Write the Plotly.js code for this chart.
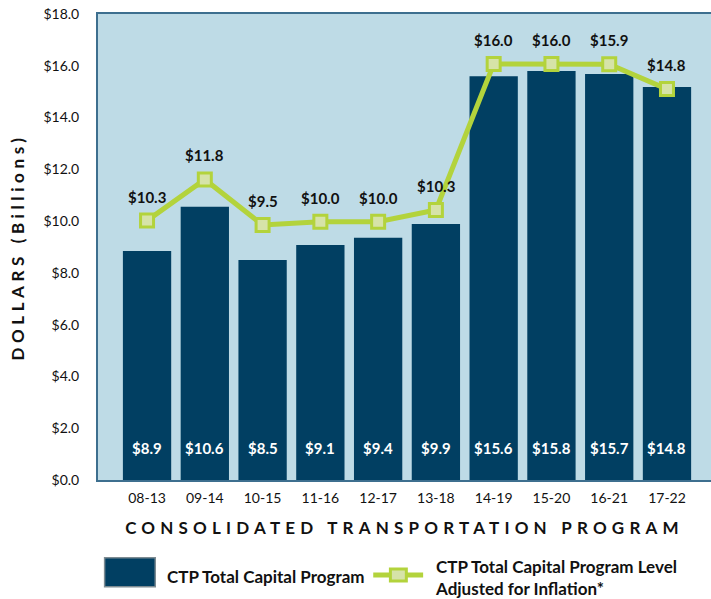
<!DOCTYPE html>
<html>
<head>
<meta charset="utf-8">
<script src="https://cdn.plot.ly/plotly-3.0.1.min.js"></script>
<style>
  html, body { margin: 0; padding: 0; background: #fff; }
  #chart { width: 711px; height: 599px; }
  .xtitle { letter-spacing: 5.2px; }
  .ytitle { letter-spacing: 4.6px; }
</style>
</head>
<body>
<div id="chart"></div>
<script>
// ---- Data ----
const categories = ['08-13', '09-14', '10-15', '11-16', '12-17', '13-18', '14-19', '15-20', '16-21', '17-22'];
// Bar heights as drawn
const capitalProgram = [8.85, 10.55, 8.50, 9.08, 9.36, 9.89, 15.60, 15.80, 15.68, 15.18];
// Values printed inside the bars
const capitalProgramLabels = [8.9, 10.6, 8.5, 9.1, 9.4, 9.9, 15.6, 15.8, 15.7, 14.8];
// Inflation-adjusted line as drawn
const inflationAdjusted = [10.02, 11.61, 9.85, 9.98, 9.98, 10.43, 16.07, 16.07, 16.06, 15.10];
// Values printed above the line markers
const inflationAdjustedLabels = [10.3, 11.8, 9.5, 10.0, 10.0, 10.3, 16.0, 16.0, 15.9, 14.8];
const yTickValues = [0, 2, 4, 6, 8, 10, 12, 14, 16, 18];

const BAR = '#013f62';
const GREEN = '#b3d33c';
const GREEN_FILL = '#d6e3a8';
const BG = '#bedbe6';
const FONT = 'Lato, "Open Sans", "Liberation Sans", sans-serif';
const fmt = v => '$' + v.toFixed(1);

const traces = [
  {
    type: 'bar', x: categories, y: capitalProgram,
    marker: { color: BAR }, width: 0.836,
    hoverinfo: 'skip', showlegend: false
  },
  {
    type: 'scatter', mode: 'lines+markers', x: categories, y: inflationAdjusted,
    line: { color: GREEN, width: 5 },
    marker: { symbol: 'square', size: 13, color: GREEN_FILL, line: { color: GREEN, width: 3 } },
    hoverinfo: 'skip', showlegend: false
  }
];

const annotations = [];
categories.forEach((c, i) => {
  annotations.push({
    x: c, y: 0, xref: 'x', yref: 'y', yshift: 32, showarrow: false,
    text: '<b>' + fmt(capitalProgramLabels[i]) + '</b>',
    font: { family: FONT, size: 15, color: '#ffffff' }
  });
  annotations.push({
    x: c, y: inflationAdjusted[i], xref: 'x', yref: 'y', yshift: 24, showarrow: false,
    text: '<b>' + fmt(inflationAdjustedLabels[i]) + '</b>',
    font: { family: FONT, size: 15, color: '#111111' }
  });
});

// Legend (custom, to match the large swatches)
annotations.push({
  xref: 'paper', yref: 'paper', x: 0.1097, y: -0.2075, xanchor: 'left', yanchor: 'middle',
  showarrow: false, align: 'left',
  text: '<b>CTP Total Capital Program</b>',
  font: { family: FONT, size: 17, color: '#111111' }
});
annotations.push({
  xref: 'paper', yref: 'paper', x: 0.5467, y: -0.209, xanchor: 'left', yanchor: 'middle',
  showarrow: false, align: 'left',
  text: '<b>CTP Total Capital Program Level<br>Adjusted for Inflation*</b>',
  font: { family: FONT, size: 17, color: '#111111' }
});

const shapes = [
  { type: 'rect', xref: 'paper', yref: 'paper', x0: 0.0108, x1: 0.0934, y0: -0.229, y1: -0.1667,
    fillcolor: BAR, line: { color: '#7d8b92', width: 1.5 } },
  { type: 'line', xref: 'paper', yref: 'paper', x0: 0.449, x1: 0.5304, y0: -0.2039, y1: -0.2039,
    line: { color: GREEN, width: 5 } },
  { type: 'rect', xref: 'paper', yref: 'paper', x0: 0.477, x1: 0.503, y0: -0.2168, y1: -0.191,
    fillcolor: GREEN_FILL, line: { color: GREEN, width: 3 } }
];

const layout = {
  width: 711, height: 599,
  margin: { l: 98, r: 0, t: 14, b: 119 },
  paper_bgcolor: '#ffffff',
  plot_bgcolor: BG,
  font: { family: FONT, size: 14, color: '#111111' },
  xaxis: {
    type: 'category', range: [-0.849, 9.762],
    showgrid: false, zeroline: false,
    showline: true, mirror: true, linecolor: '#3d6f8f', linewidth: 2,
    ticks: 'outside', ticklen: 4, tickcolor: 'rgba(0,0,0,0)',
    tickfont: { family: FONT, size: 14, color: '#111111' },
    title: { text: '<b>CONSOLIDATED TRANSPORTATION PROGRAM</b>', standoff: 17,
             font: { family: FONT, size: 17, color: '#111111' } }
  },
  yaxis: {
    range: [0, 18], tickvals: yTickValues, ticktext: yTickValues.map(fmt),
    showgrid: false, zeroline: false,
    showline: true, mirror: false, linecolor: '#3d6f8f', linewidth: 2,
    ticks: 'outside', ticklen: 14, tickcolor: 'rgba(0,0,0,0)',
    tickfont: { family: FONT, size: 14, color: '#111111' },
    title: { text: '<b>DOLLARS (Billions)</b>', standoff: 14,
             font: { family: FONT, size: 17, color: '#111111' } }
  },
  annotations: annotations,
  shapes: shapes,
  showlegend: false
};

Plotly.newPlot('chart', traces, layout, { displayModeBar: false, staticPlot: true });
</script>
</body>
</html>
